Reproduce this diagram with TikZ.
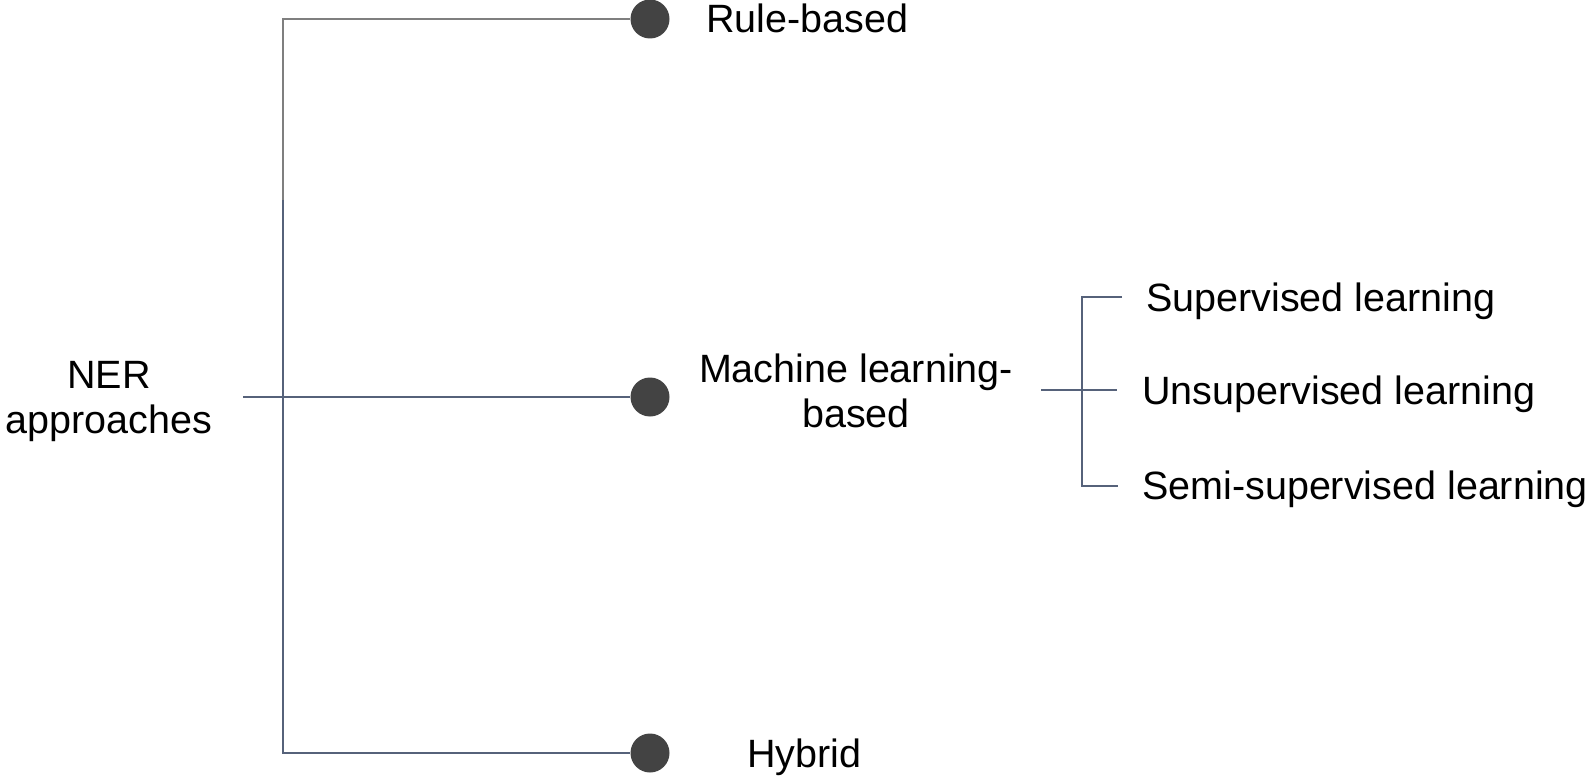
\documentclass[tikz,border=0pt]{standalone}
\usepackage{fontspec}
\setmainfont{Liberation Sans}
\definecolor{linec}{HTML}{56627A}
\definecolor{topc}{HTML}{7F7F7F}
\definecolor{dotc}{HTML}{434343}
\begin{document}
\begin{tikzpicture}[x=1pt,y=-1pt,
  conn/.style={draw=linec, line width=1.6pt},
  dot/.style={circle, fill=dotc, minimum size=39pt, inner sep=0pt},
  lbl/.style={font=\fontsize{39.5}{45}\selectfont, inner sep=0pt, text=black}]
\useasboundingbox (0,0) rectangle (1585,778);
\clip (0,0) rectangle (1585,778);

% root label and the three main branches
\node[lbl, anchor=base, align=center] (ner) at (109,433) {NER\\approaches};
\coordinate (root) at (243,397);
\coordinate (top) at (283,19);
\coordinate (bot) at (283,753);

\node[dot] (d1) at (650,19) {};
\node[dot] (d2) at (650,397) {};
\node[dot] (d3) at (650,753) {};

\node[lbl, anchor=base west] (rb) at (706,33) {Rule-based};
\node[lbl, anchor=base, align=center] (ml) at (856,427) {Machine learning-\\based};
\node[lbl, anchor=base west] (hy) at (747,767) {Hybrid};

\draw[conn, draw=topc] (d1.west) -- (top) -- (283,200);
\draw[conn] (283,200) -- (bot) -- (d3.west);
\draw[conn] (root) -- (d2.west);

% sub-branches of the machine learning approach
\coordinate (mlout) at (1041,390);
\coordinate (t1) at (1122,297);
\coordinate (t2) at (1117,390);
\coordinate (t3) at (1118,486);
\coordinate (bB) at (1082,486);

\node[lbl, anchor=base west] (sup) at (1146,311) {Supervised learning};
\node[lbl, anchor=base west] (uns) at (1142,404) {Unsupervised learning};
\node[lbl, anchor=base west] (semi) at (1142,499) {Semi-supervised learning};

\draw[conn] (t1) -| (bB) -- (t3);
\draw[conn] (mlout) -- (t2);
\end{tikzpicture}
\end{document}
